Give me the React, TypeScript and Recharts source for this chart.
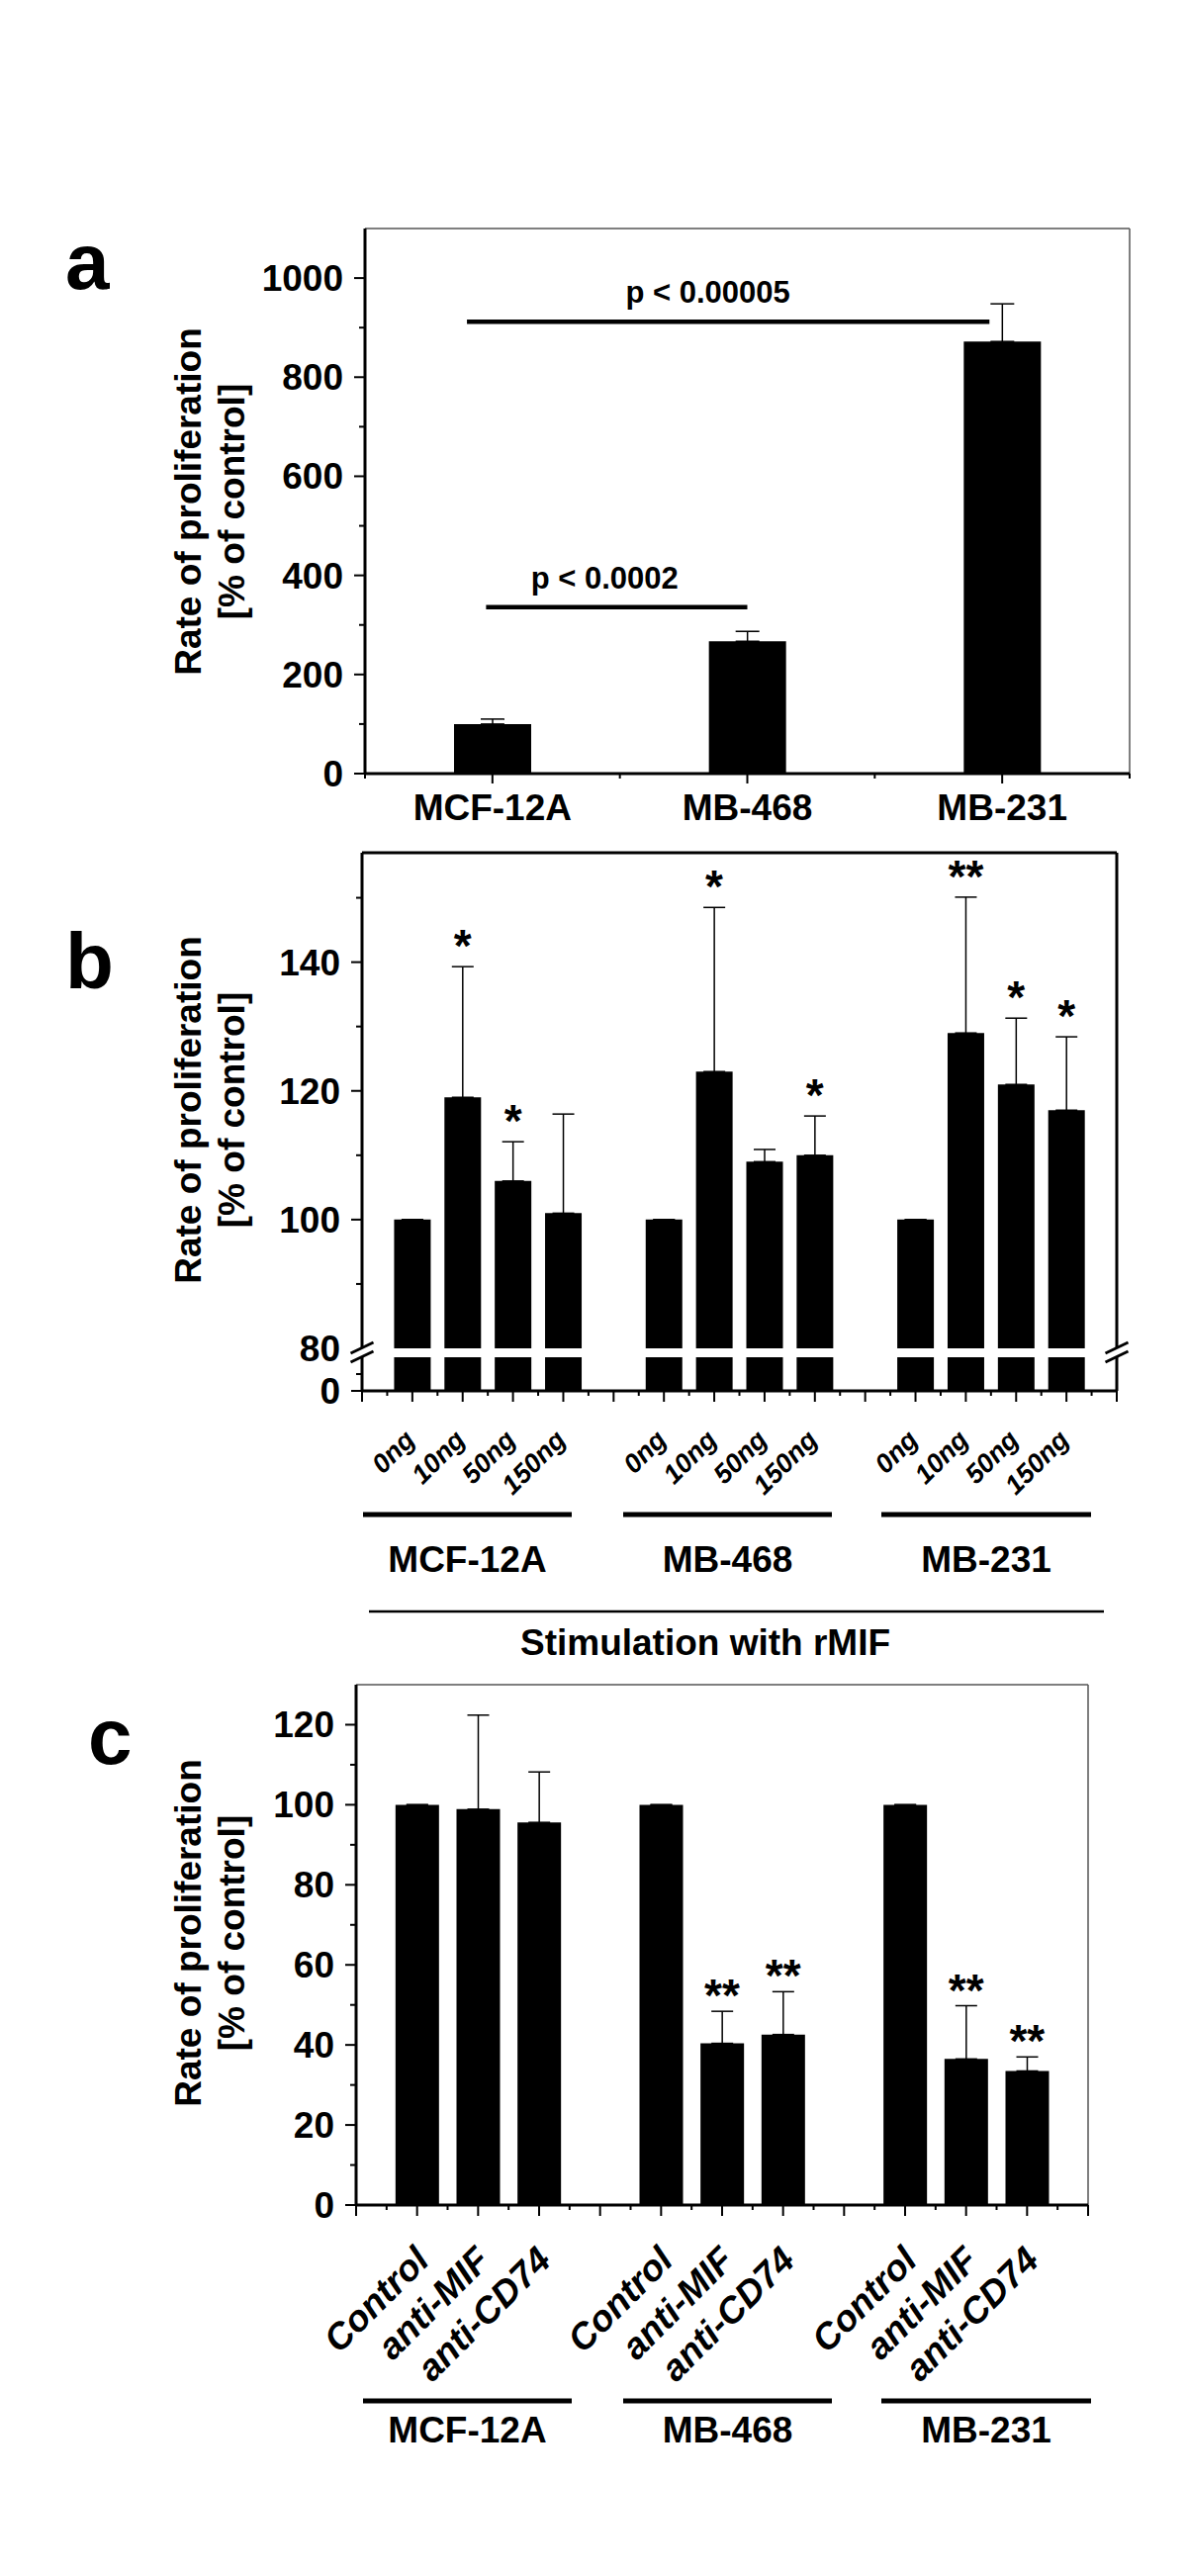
import React from 'react'
import { ComposedChart, Bar, ErrorBar, Scatter, XAxis, YAxis, ReferenceLine, ReferenceDot } from 'recharts'

const FONT = "'Liberation Sans', Arial, Helvetica, sans-serif"

// a: basal proliferation of the three cell lines
const cellLines = ['MCF-12A', 'MB-468', 'MB-231']
const basalRate = [100, 267, 872]
const basalErr = [10, 20, 76]
const pLabels = ['p < 0.0002', 'p < 0.00005']
const pLevels = [336, 912]

// b: stimulation with rMIF
const doses = ['0ng', '10ng', '50ng', '150ng']
const rmifMCF12A = [100, 119, 106, 101]
const rmifMB468 = [100, 123, 109, 110]
const rmifMB231 = [100, 129, 121, 117]
const rmifErrMCF12A = [0, 20.3, 6.1, 15.4]
const rmifErrMB468 = [0, 25.5, 1.9, 6.1]
const rmifErrMB231 = [0, 21.1, 10.3, 11.4]
const rmifStarsMCF12A = ['', '*', '*', '']
const rmifStarsMB468 = ['', '*', '', '*']
const rmifStarsMB231 = ['', '**', '*', '*']

// c: blocking antibodies
const treatments = ['Control', 'anti-MIF', 'anti-CD74']
const blockMCF12A = [100, 98.9, 95.6]
const blockMB468 = [100, 40.4, 42.6]
const blockMB231 = [100, 36.5, 33.5]
const blockErrMCF12A = [0, 23.5, 12.6]
const blockErrMB468 = [0, 8, 10.7]
const blockErrMB231 = [0, 13.3, 3.5]
const blockStarsMCF12A = ['', '', '']
const blockStarsMB468 = ['', '**', '**']
const blockStarsMB231 = ['', '**', '**']

const yTitle = ['Rate of proliferation', '[% of control]']

// layout (pixels / axis units), kept apart from the data
const W = 1200
const YW = 120
const P_SPANS = [[0.95, 3.0], [0.8, 4.9]]
const P_TEXT_X = [1.88, 2.69]
const GROUP_LINES = [[367, 578], [630, 841], [891, 1103]]

const steps = (from: number, to: number, step: number) =>
  Array.from({ length: Math.round((to - from) / step) + 1 }, (_, i) => +(from + i * step).toFixed(2))

type Row = { x: number; v: number; e: [number, number]; label: string; star: string }

const groupRows = (vals: number[][], errs: number[][], stars: string[][], labels: string[]): Row[] =>
  vals.flatMap((g, gi) =>
    g.map((v, i) => ({
      x: gi * (labels.length + 1) + i + 1,
      v,
      e: [0, errs[gi][i]] as [number, number],
      label: labels[i],
      star: stars[gi][i],
    }))
  )

const rowsA: Row[] = cellLines.map((c, i) => ({ x: 2 * i + 1, v: basalRate[i], e: [0, basalErr[i]], label: c, star: '' }))
const rowsB = groupRows(
  [rmifMCF12A, rmifMB468, rmifMB231],
  [rmifErrMCF12A, rmifErrMB468, rmifErrMB231],
  [rmifStarsMCF12A, rmifStarsMB468, rmifStarsMB231],
  doses
)
const rowsC = groupRows(
  [blockMCF12A, blockMB468, blockMB231],
  [blockErrMCF12A, blockErrMB468, blockErrMB231],
  [blockStarsMCF12A, blockStarsMB468, blockStarsMB231],
  treatments
)

const starPoints = (rows: Row[]) => rows.filter((r) => r.star).map((r) => ({ x: r.x, y: r.v + r.e[1], star: r.star }))

const txt = { fontFamily: FONT, fontWeight: 700, fill: '#000' } as const

const yTick = (labelled: number[], noLine: number[] = []) => (p: any) => {
  const { x, y, payload } = p
  const major = labelled.includes(payload.value)
  return (
    <g>
      {!noLine.includes(payload.value) && (
        <line x1={x} x2={x - (major ? 11 : 6)} y1={y} y2={y} stroke="#000" strokeWidth={2} />
      )}
      {major && (
        <text x={x - 22} y={y + 13} textAnchor="end" fontSize={37} {...txt}>
          {payload.value}
        </text>
      )}
    </g>
  )
}

const xTickFlat = (rows: Row[]) => (p: any) => {
  const { x, y, payload } = p
  const row = rows.find((r) => r.x === payload.value)
  return (
    <g>
      <line x1={x} x2={x} y1={y} y2={y + (row ? 10 : 5)} stroke="#000" strokeWidth={2} />
      {row && (
        <text x={x} y={y + 47} textAnchor="middle" fontSize={37} {...txt}>
          {row.label}
        </text>
      )}
    </g>
  )
}

const xTickSlant = (rows: Row[], size: number, dx: number, dy: number) => (p: any) => {
  const { x, y, payload } = p
  const v = payload.value
  const row = rows.find((r) => r.x === v)
  const tx = x + dx
  const ty = y + dy
  return (
    <g>
      <line x1={x} x2={x} y1={y} y2={y + (Number.isInteger(v) ? 11 : 5)} stroke="#000" strokeWidth={2} />
      {row && (
        <text x={tx} y={ty} transform={`rotate(-45 ${tx} ${ty})`} textAnchor="end" fontSize={size} fontStyle="italic" {...txt}>
          {row.label}
        </text>
      )}
    </g>
  )
}

const starShape = (drop: number) => (p: any) => (
  <text x={p.cx} y={p.cy + drop} textAnchor="middle" fontSize={46} {...txt}>
    {p.payload.star}
  </text>
)

const box = (top: number, height: number): React.CSSProperties => ({ position: 'absolute', left: 0, top, width: W, height })

function PanelA() {
  const left = 369
  const right = 1142
  return (
    <div style={box(180, 682)}>
      <ComposedChart width={W} height={682} data={rowsA} margin={{ top: 51, right: W - right, bottom: 0, left: left - YW }}>
        <XAxis type="number" dataKey="x" domain={[0, 6]} ticks={steps(0, 6, 1)} interval={0} height={80}
          tick={xTickFlat(rowsA)} tickLine={false} tickSize={0} tickMargin={0} axisLine={{ stroke: '#000', strokeWidth: 3 }} />
        <YAxis type="number" domain={[0, 1100]} ticks={steps(0, 1000, 100)} interval={0} width={YW}
          tick={yTick(steps(0, 1000, 200))} tickLine={false} tickSize={0} tickMargin={0} axisLine={{ stroke: '#000', strokeWidth: 3 }} />
        <ReferenceLine y={1100} stroke="#555" strokeWidth={1.5} />
        <ReferenceLine x={6} stroke="#555" strokeWidth={1.5} />
        <Bar dataKey="v" fill="#000" barSize={78} isAnimationActive={false}>
          <ErrorBar dataKey="e" width={12} stroke="#000" strokeWidth={1.5} />
        </Bar>
        {pLevels.map((lv, i) => (
          <ReferenceLine key={i} segment={[{ x: P_SPANS[i][0], y: lv }, { x: P_SPANS[i][1], y: lv }]} stroke="#000" strokeWidth={4.5} />
        ))}
        {pLevels.map((lv, i) => (
          <ReferenceDot key={`p${i}`} x={P_TEXT_X[i]} y={lv} r={1}
            shape={(p: any) => (
              <text x={p.cx} y={p.cy - 19} textAnchor="middle" fontSize={31} {...txt}>
                {pLabels[i]}
              </text>
            )} />
        ))}
      </ComposedChart>
    </div>
  )
}

function PanelB() {
  const left = 366
  const right = 1129
  const margin = { right: W - right, left: left - YW }
  return (
    <>
      <div style={box(820, 573)}>
        <ComposedChart width={W} height={573} data={rowsB} margin={{ ...margin, top: 42, bottom: 30 }}>
          <XAxis type="number" dataKey="x" domain={[0, 15]} hide />
          <YAxis type="number" domain={[80, 157]} allowDataOverflow ticks={steps(80, 150, 10)} interval={0} width={YW}
            tick={yTick([80, 100, 120, 140], [80])} tickLine={false} tickSize={0} tickMargin={0} axisLine={{ stroke: '#000', strokeWidth: 3 }} />
          <ReferenceLine y={157} stroke="#000" strokeWidth={3} />
          <ReferenceLine x={15} stroke="#000" strokeWidth={3} />
          <Bar dataKey="v" fill="#000" barSize={37} isAnimationActive={false}>
            <ErrorBar dataKey="e" width={11} stroke="#000" strokeWidth={1.5} />
          </Bar>
          <Scatter data={starPoints(rowsB)} dataKey="y" shape={starShape(-5)} isAnimationActive={false} />
        </ComposedChart>
      </div>
      <div style={box(1360, 246)}>
        <ComposedChart width={W} height={246} data={rowsB} margin={{ ...margin, top: 12, bottom: 0 }}>
          <XAxis type="number" dataKey="x" domain={[0, 15]} ticks={steps(0, 15, 0.5)} interval={0} height={200}
            tick={xTickSlant(rowsB, 27, 4, 51)} tickLine={false} tickSize={0} tickMargin={0} axisLine={{ stroke: '#000', strokeWidth: 3 }} />
          <YAxis type="number" domain={[0, 20]} allowDataOverflow ticks={[0, 10]} interval={0} width={YW}
            tick={yTick([0])} tickLine={false} tickSize={0} tickMargin={0} axisLine={{ stroke: '#000', strokeWidth: 3 }} />
          <ReferenceLine x={15} stroke="#000" strokeWidth={3} />
          <Bar dataKey="v" fill="#000" barSize={37} isAnimationActive={false} />
        </ComposedChart>
      </div>
    </>
  )
}

function PanelC() {
  const left = 360
  const right = 1100
  return (
    <div style={box(1650, 779)}>
      <ComposedChart width={W} height={779} data={rowsC} margin={{ top: 53, right: W - right, bottom: 0, left: left - YW }}>
        <XAxis type="number" dataKey="x" domain={[0, 12]} ticks={steps(0, 12, 0.5)} interval={0} height={200}
          tick={xTickSlant(rowsC, 37, 14, 58)} tickLine={false} tickSize={0} tickMargin={0} axisLine={{ stroke: '#000', strokeWidth: 3 }} />
        <YAxis type="number" domain={[0, 130]} ticks={steps(0, 120, 10)} interval={0} width={YW}
          tick={yTick(steps(0, 120, 20))} tickLine={false} tickSize={0} tickMargin={0} axisLine={{ stroke: '#000', strokeWidth: 3 }} />
        <ReferenceLine y={130} stroke="#555" strokeWidth={1.5} />
        <ReferenceLine x={12} stroke="#555" strokeWidth={1.5} />
        <Bar dataKey="v" fill="#000" barSize={44} isAnimationActive={false}>
          <ErrorBar dataKey="e" width={11} stroke="#000" strokeWidth={1.5} />
        </Bar>
        <Scatter data={starPoints(rowsC)} dataKey="y" shape={starShape(0)} isAnimationActive={false} />
      </ComposedChart>
    </div>
  )
}

function Overlay() {
  const titleCenters = [507, 1122, 1954]
  const breaks = [366, 1129].flatMap((x) => [1362.5, 1371.5].map((y) => ({ x, y })))
  const groups = (lineY: number, nameY: number) =>
    GROUP_LINES.map(([a, b], i) => (
      <g key={i}>
        <line x1={a} x2={b} y1={lineY} y2={lineY} stroke="#000" strokeWidth={5} />
        <text x={(a + b) / 2} y={nameY} textAnchor="middle" fontSize={37} {...txt}>
          {cellLines[i]}
        </text>
      </g>
    ))
  return (
    <svg width={W} height={2604} style={{ position: 'absolute', left: 0, top: 0, pointerEvents: 'none' }}>
      <text x={66} y={292} fontSize={80} {...txt}>a</text>
      <text x={66} y={999} fontSize={80} {...txt}>b</text>
      <text x={89} y={1783} fontSize={80} {...txt}>c</text>
      {titleCenters.map((cy, k) =>
        yTitle.map((t, i) => (
          <text key={`${k}-${i}`} transform={`translate(${i ? 247 : 203} ${cy}) rotate(-90)`} textAnchor="middle" fontSize={37} {...txt}>
            {t}
          </text>
        ))
      )}
      {breaks.map((b, i) => (
        <line key={i} x1={b.x - 11.5} y1={b.y + 5.5} x2={b.x + 11.5} y2={b.y - 5.5} stroke="#000" strokeWidth={3} />
      ))}
      {groups(1531, 1589)}
      <line x1={373} x2={1116} y1={1629} y2={1629} stroke="#000" strokeWidth={2.5} />
      <text x={713} y={1673} textAnchor="middle" fontSize={37} {...txt}>Stimulation with rMIF</text>
      {groups(2427, 2469)}
    </svg>
  )
}

export default function App() {
  return (
    <div style={{ position: 'relative', width: W, height: 2604, background: '#fff', fontFamily: FONT }}>
      <style>{'body{margin:0}'}</style>
      <PanelA />
      <PanelB />
      <PanelC />
      <Overlay />
    </div>
  )
}
